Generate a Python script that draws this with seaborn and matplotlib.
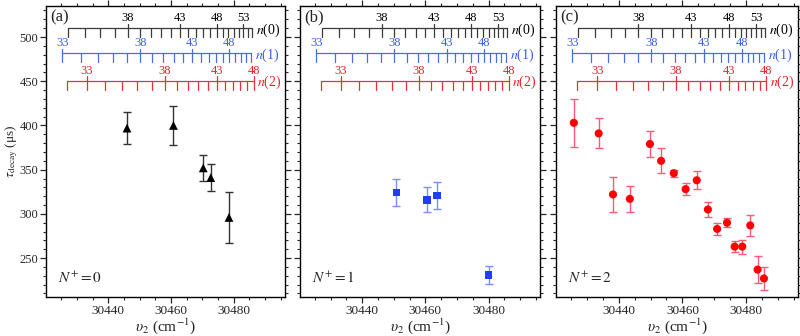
import numpy as np
import pandas as pd
import matplotlib
matplotlib.use('Agg')
import matplotlib.pyplot as plt
import matplotlib.transforms as mtransforms
from matplotlib.ticker import MultipleLocator
import seaborn as sns

# decay times, N+ = 0
nu_a = [30446.0, 30460.8, 30470.3, 30472.7, 30478.5]
tau_a = [397, 400, 352, 341, 296]
err_a = [18, 22, 15, 15, 29]

# N+ = 1
nu_b = [30450.8, 30460.6, 30463.7, 30480.0]
tau_b = [324, 316, 321, 231]
err_b = [15, 14, 15, 10]

# N+ = 2
nu_c = [30425.9, 30433.7, 30438.2, 30443.5, 30449.8, 30453.3, 30457.3, 30461.0,
        30464.5, 30468.0, 30470.9, 30474.0, 30476.4, 30478.8, 30481.3, 30483.6, 30485.6]
tau_c = [403, 391, 322, 317, 379, 360, 346, 328, 338, 305, 283, 290, 263, 263, 287, 237, 227]
err_c = [27, 17, 20, 15, 15, 14, 4, 7, 10, 8, 7, 5, 6, 8, 12, 15, 13]

# Rydberg series n(0), n(1), n(2): limits and n ranges
limits = [30522.2, 30526.2, 30534.0]
n_first = [34, 33, 32]
n_last = [55, 52, 48]
RYD = 109737.0

sns.set_style('ticks')
plt.rcParams['font.family'] = ['Liberation Serif', 'DejaVu Serif']
plt.rcParams['mathtext.fontset'] = 'stix'

fig = plt.figure(figsize=(8, 3.36), dpi=100)
bottom, height = 0.116, 0.866
axes = [fig.add_axes([0.058, bottom, 0.298, height]),
        fig.add_axes([0.375, bottom, 0.300, height]),
        fig.add_axes([0.695, bottom, 0.3025, height])]

panels = [
    ('(a)', 0, nu_a, tau_a, err_a, '^', 'black', '#333333', 40),
    ('(b)', 1, nu_b, tau_b, err_b, 's', '#1f3cff', '#7b8cff', 30),
    ('(c)', 2, nu_c, tau_c, err_c, 'o', '#ff0000', '#ff5a78', 34),
]

ruler_colors = ['#3a3a3a', '#4a6af0', '#e8303a']
label_colors = ['black', '#3a5cf0', '#e8202a']
ruler_y = [0.923, 0.837, 0.742]

for ax, (tag, N, nu, tau, err, mk, col, ecol, size) in zip(axes, panels):
    df = pd.DataFrame({'nu': nu, 'tau': tau, 'err': err})
    ax.errorbar(df['nu'], df['tau'], yerr=df['err'], fmt='none', ecolor=ecol,
                elinewidth=1.0, capsize=3, capthick=1.0, zorder=2)
    sns.scatterplot(data=df, x='nu', y='tau', marker=mk, s=size, color=col,
                    edgecolor='none', ax=ax, zorder=3, legend=False)

    ax.set_xlim(30420.3, 30496.3)
    ax.set_ylim(206, 535)
    ax.xaxis.set_major_locator(MultipleLocator(20))
    ax.xaxis.set_minor_locator(MultipleLocator(5))
    ax.yaxis.set_major_locator(MultipleLocator(50))
    ax.yaxis.set_minor_locator(MultipleLocator(10))
    ax.tick_params(which='both', direction='out', top=True, right=True, pad=1.5)
    ax.tick_params(axis='x', labelsize=9.5)
    ax.tick_params(axis='y', labelsize=9)
    ax.tick_params(which='major', length=4.5, width=0.9)
    ax.tick_params(which='minor', length=2.2, width=0.8)
    for s in ax.spines.values():
        s.set_linewidth(1.0)
        s.set_color('black')
    ax.set_xlabel(r'$\upsilon_2$ (cm$^{-1}$)', fontsize=11, labelpad=-1)
    if N == 0:
        ax.set_ylabel(r'$\tau_{\rm decay}$ (μs)', fontsize=9.5)
        ax.yaxis.set_label_coords(-0.112, 0.5)
    else:
        ax.set_ylabel('')
        ax.tick_params(labelleft=False)

    ax.text(0.018, 0.99, tag, transform=ax.transAxes, fontsize=12, va='top', ha='left')
    ax.text(0.05, 0.065, r'$N^{+}=%d$' % N, transform=ax.transAxes, fontsize=11,
            va='center', ha='left')

    # n-scales on top
    trans = mtransforms.blended_transform_factory(ax.transData, ax.transAxes)
    for k in range(3):
        ns = np.arange(n_first[k], n_last[k] + 1)
        pos = limits[k] - RYD / ns ** 2
        y0 = ruler_y[k]
        ax.plot([pos[0], pos[-1]], [y0, y0], color=ruler_colors[k], lw=0.9,
                transform=trans, clip_on=False)
        for n, p in zip(ns, pos):
            major = (n - 33) % 5 == 0
            top = y0 + 0.017 if major else y0
            ax.plot([p, p], [y0 - 0.029, top], color=ruler_colors[k], lw=0.9,
                    transform=trans, clip_on=False)
            if major:
                ax.text(p, y0 + 0.035, str(n), color=label_colors[k], fontsize=9,
                        ha='center', va='center', transform=trans)
        ax.text(pos[-1] + 1.2, y0 - 0.005, r'$n$(%d)' % k, color=label_colors[k],
                fontsize=10, ha='left', va='center', transform=trans)

fig.savefig('out.png', dpi=100)
